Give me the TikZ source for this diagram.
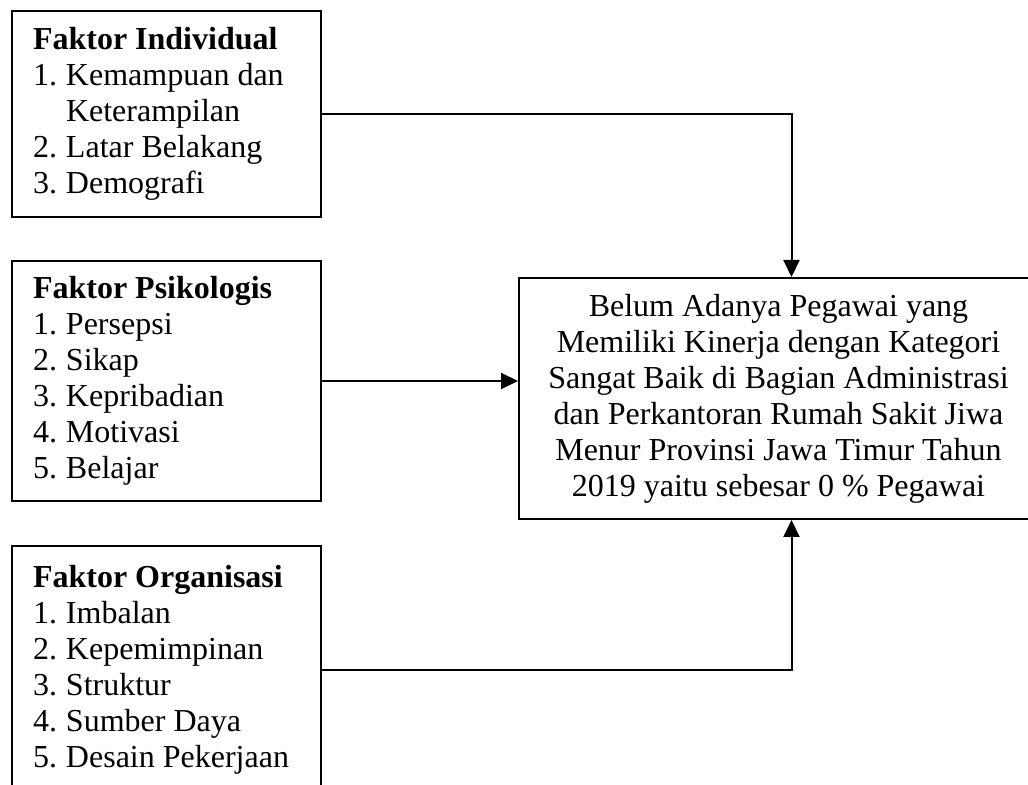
\documentclass[tikz,border=0pt]{standalone}
\usepackage{fontspec}
\setmainfont{Liberation Serif}
\usetikzlibrary{arrows.meta, positioning}

\newcommand{\numitem}[1]{\makebox[16.5pt][l]{#1}}

\begin{document}
\begin{tikzpicture}[
    x=0.5pt, y=-0.5pt,
    factor/.style={rectangle, draw=black, line width=1pt, anchor=north west, minimum width=154.5pt, text width=133.5pt, align=flush left, inner xsep=10.5pt, font=\fontsize{16}{18}\selectfont},
    goalbox/.style={rectangle, draw=black, line width=1pt, anchor=north west, minimum width=259.5pt, minimum height=120.5pt, align=center, font=\fontsize{16}{18}\selectfont},
    arrow/.style={-{Triangle[length=8.5pt, width=8pt]}, line width=1pt}
]
\clip (0,0) rectangle (1028,785);

% Factor boxes
\node[factor, minimum height=103pt] (individual) at (11,10) {\textbf{Faktor Individual}\\
\numitem{1.}Kemampuan dan\\
\numitem{}Keterampilan\\
\numitem{2.}Latar Belakang\\
\numitem{3.}Demografi};
\node[factor, minimum height=120pt] (psikologis) at (11,260) {\textbf{Faktor Psikologis}\\
\numitem{1.}Persepsi\\
\numitem{2.}Sikap\\
\numitem{3.}Kepribadian\\
\numitem{4.}Motivasi\\
\numitem{5.}Belajar};
\node[factor, minimum height=124pt] (organisasi) at (11,545) {\textbf{Faktor Organisasi}\\
\numitem{1.}Imbalan\\
\numitem{2.}Kepemimpinan\\
\numitem{3.}Struktur\\
\numitem{4.}Sumber Daya\\
\numitem{5.}Desain Pekerjaan};

% Outcome box
\node[goalbox] (kinerja) at (518,277) {Belum Adanya Pegawai yang\\
Memiliki Kinerja dengan Kategori\\
Sangat Baik di Bagian Administrasi\\
dan Perkantoran Rumah Sakit Jiwa\\
Menur Provinsi Jawa Timur Tahun\\
2019 yaitu sebesar 0 \% Pegawai};

% Arrows
\draw[arrow] (individual.east) -| ([xshift=6.5pt]kinerja.north);
\draw[arrow] (psikologis.east) -- (psikologis.east -| kinerja.west);
\draw[arrow] (organisasi.east) -| ([xshift=6.5pt]kinerja.south);
\end{tikzpicture}
\end{document}
